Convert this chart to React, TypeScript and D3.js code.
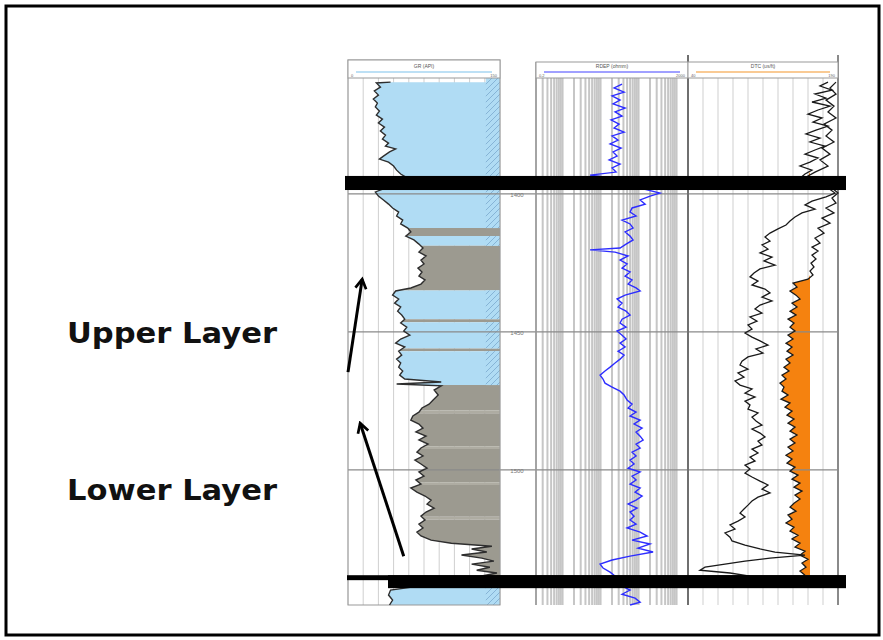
import * as d3 from 'd3'

const width = 883
const height = 640

// depth (m), gamma ray (API)
const grCurve: [number, number][] = [
  [1359.5, 42], [1359.8, 28], [1361.3, 32], [1362.7, 26], [1364.2, 30], [1365.6, 25], [1367.1, 29], [1368.5, 27],
  [1370.0, 31], [1371.4, 28], [1372.9, 34], [1374.3, 30], [1375.8, 36], [1377.2, 32], [1378.7, 37], [1380.1, 34],
  [1381.6, 40], [1382.7, 37], [1383.7, 47], [1384.8, 41], [1386.3, 35], [1387.4, 31], [1388.5, 40], [1389.9, 45],
  [1391.4, 48], [1392.8, 52], [1393.9, 57], [1396.1, 47], [1397.9, 37], [1399.3, 27], [1400.8, 30], [1402.2, 35],
  [1403.7, 40], [1405.1, 44], [1406.6, 50], [1408.0, 48], [1409.5, 54], [1410.9, 52], [1412.4, 59], [1413.8, 62],
  [1415.3, 57], [1416.7, 65], [1418.2, 70], [1419.6, 74], [1421.1, 70], [1422.5, 77], [1424.0, 72], [1425.4, 75],
  [1426.9, 69], [1428.3, 73], [1429.8, 70], [1431.2, 76], [1432.7, 72], [1434.1, 62], [1435.2, 47], [1436.7, 44],
  [1438.1, 50], [1439.6, 46], [1441.0, 52], [1442.5, 49], [1443.9, 53], [1445.4, 56], [1446.8, 52], [1448.3, 58],
  [1449.7, 55], [1451.2, 61], [1452.6, 52], [1454.1, 47], [1455.5, 56], [1457.0, 50], [1458.4, 53], [1459.9, 48],
  [1461.3, 52], [1462.8, 50], [1464.2, 54], [1465.7, 51], [1467.1, 56], [1468.2, 92], [1468.9, 48], [1469.6, 92],
  [1471.1, 85], [1472.9, 89], [1474.7, 84], [1476.2, 80], [1477.6, 73], [1479.1, 70], [1480.5, 64], [1482.0, 62],
  [1483.4, 70], [1484.9, 74], [1486.3, 67], [1487.8, 77], [1489.2, 70], [1490.7, 79], [1492.1, 72], [1493.6, 68],
  [1495.0, 74], [1496.5, 66], [1497.9, 72], [1499.4, 78], [1500.8, 70], [1502.3, 75], [1503.7, 67], [1505.2, 72],
  [1506.6, 62], [1508.1, 68], [1509.5, 76], [1511.0, 82], [1512.4, 78], [1513.9, 85], [1515.3, 77], [1516.8, 72],
  [1518.2, 76], [1519.7, 70], [1521.1, 74], [1522.6, 68], [1524.0, 72], [1525.5, 82], [1526.6, 102], [1527.7, 142],
  [1528.7, 122], [1529.8, 137], [1530.9, 112], [1532.0, 132], [1533.1, 144], [1534.2, 122], [1535.3, 140], [1536.4, 127],
  [1537.4, 147], [1538.5, 132], [1540.0, 112], [1543.6, 42], [1545.4, 40], [1547.2, 44], [1549.0, 41],
]

// depth (m), deep resistivity (ohmm)
const resCurve: [number, number][] = [
  [1360.2, 36.8], [1361.6, 22.7], [1363.1, 41.6], [1364.5, 20.1], [1366.0, 32.6], [1367.4, 21.3], [1368.9, 44.2],
  [1370.3, 24.1], [1371.8, 36.8], [1373.2, 18.9], [1374.7, 30.7], [1376.1, 22.7], [1377.6, 41.6], [1379.0, 20.1],
  [1380.5, 28.9], [1381.9, 17.8], [1383.4, 34.7], [1384.8, 21.3], [1386.3, 27.2], [1387.7, 16.8], [1389.2, 32.6],
  [1390.6, 20.1], [1392.1, 25.6], [1393.2, 5.3], [1394.3, 24.1], [1396.1, 44.2], [1397.9, 110], [1399.7, 366],
  [1400.8, 201], [1402.2, 110], [1403.7, 149], [1405.1, 67.5], [1406.6, 59.8], [1408.0, 86.0], [1409.5, 36.8],
  [1410.9, 59.8], [1412.4, 71.7], [1413.8, 44.2], [1415.3, 59.8], [1416.7, 71.7], [1418.2, 46.9], [1419.6, 32.6],
  [1420.3, 5.3], [1421.1, 24.1], [1422.5, 53.0], [1424.0, 32.6], [1425.4, 49.9], [1426.9, 36.8], [1428.3, 59.8],
  [1429.8, 44.2], [1431.2, 67.5], [1432.7, 53.0], [1434.1, 86.0], [1435.2, 110], [1436.7, 44.2], [1438.1, 27.2],
  [1439.6, 36.8], [1441.0, 28.9], [1442.5, 46.9], [1443.9, 59.8], [1445.4, 36.8], [1446.8, 32.6], [1448.3, 46.9],
  [1449.7, 27.2], [1451.2, 36.8], [1452.6, 46.9], [1454.1, 32.6], [1455.5, 44.2], [1457.0, 28.9], [1458.4, 41.6],
  [1459.9, 32.6], [1461.3, 24.1], [1462.8, 17.8], [1464.2, 13.1], [1465.7, 9.7], [1467.1, 11.6], [1468.6, 13.1],
  [1470.0, 20.1], [1471.5, 32.6], [1472.9, 41.6], [1474.7, 49.9], [1476.2, 67.5], [1477.6, 53.0], [1479.1, 86.0],
  [1480.5, 59.8], [1482.0, 110], [1483.4, 76.2], [1484.9, 124], [1486.3, 86.0], [1487.8, 110], [1489.2, 132],
  [1490.7, 86.0], [1492.1, 110], [1493.6, 67.5], [1495.0, 86.0], [1496.5, 59.8], [1497.9, 76.2], [1499.4, 53.0],
  [1500.8, 110], [1502.3, 67.5], [1503.7, 86.0], [1505.2, 59.8], [1506.6, 110], [1508.1, 81.0], [1509.5, 124],
  [1511.0, 86.0], [1512.4, 53.0], [1513.9, 91.4], [1515.3, 59.8], [1516.8, 76.2], [1518.2, 59.8], [1519.7, 86.0],
  [1521.1, 49.9], [1522.6, 110], [1524.0, 168], [1525.5, 67.5], [1526.9, 201], [1528.4, 97.1], [1529.8, 241],
  [1531.3, 59.8], [1532.7, 20.1], [1534.2, 9.7], [1535.6, 11.6], [1537.1, 17.8], [1538.5, 24.1], [1540.0, 20.1],
  [1541.8, 32.6], [1543.6, 59.8], [1545.1, 36.8], [1546.5, 81.0], [1548.0, 110], [1549.0, 59.8],
]

// depth (m), compressional slowness (us/ft)
const dtCurve: [number, number][] = [
  [1359.5, 180], [1360.9, 172], [1362.4, 184], [1363.8, 167], [1365.3, 178], [1366.7, 164], [1368.2, 182], [1369.6, 170],
  [1371.1, 160], [1372.5, 174], [1374.0, 165], [1375.4, 180], [1376.9, 168], [1378.3, 158], [1379.8, 172], [1381.2, 162],
  [1382.7, 177], [1384.1, 167], [1385.6, 157], [1387.0, 170], [1388.5, 162], [1389.9, 152], [1391.4, 164], [1392.8, 157],
  [1394.3, 152], [1396.1, 167], [1397.9, 180], [1399.7, 187], [1401.1, 178], [1402.6, 164], [1404.0, 157], [1405.5, 167],
  [1406.9, 154], [1408.4, 147], [1409.8, 142], [1411.3, 138], [1412.7, 130], [1414.2, 122], [1415.6, 117], [1417.1, 122],
  [1418.5, 114], [1420.0, 120], [1421.4, 112], [1422.9, 124], [1424.3, 116], [1425.8, 127], [1427.2, 112], [1428.7, 106],
  [1430.1, 102], [1431.6, 110], [1433.0, 104], [1434.5, 117], [1435.9, 122], [1437.4, 114], [1438.8, 124], [1440.3, 112],
  [1441.7, 107], [1443.2, 114], [1444.6, 102], [1446.1, 109], [1447.5, 100], [1449.0, 104], [1450.4, 97], [1451.9, 104],
  [1453.3, 112], [1454.8, 120], [1456.2, 108], [1457.7, 115], [1459.1, 100], [1460.6, 94], [1462.0, 92], [1463.5, 100],
  [1464.9, 90], [1466.4, 96], [1467.8, 87], [1469.3, 92], [1470.7, 104], [1472.2, 97], [1473.6, 107], [1475.1, 97],
  [1476.5, 102], [1478.0, 100], [1479.4, 110], [1480.9, 104], [1482.3, 108], [1483.8, 114], [1485.2, 104], [1486.7, 112],
  [1488.1, 117], [1489.6, 110], [1491.0, 114], [1492.5, 104], [1493.9, 110], [1495.4, 102], [1496.8, 107], [1498.3, 97],
  [1499.7, 102], [1501.2, 97], [1502.6, 104], [1504.1, 112], [1505.5, 120], [1507.0, 114], [1508.4, 122], [1509.9, 110],
  [1511.3, 104], [1512.8, 100], [1514.2, 96], [1515.7, 92], [1517.1, 97], [1518.6, 90], [1520.0, 82], [1521.5, 87],
  [1522.9, 77], [1524.4, 82], [1525.8, 84], [1527.3, 97], [1528.7, 112], [1529.8, 127], [1530.9, 157], [1532.0, 122],
  [1533.1, 97], [1534.2, 77], [1535.3, 57], [1536.4, 52], [1537.4, 82], [1538.5, 102],
]

// depth (m), shear slowness (us/ft), shaded against the cutoff
const dtsCurve: [number, number][] = [
  [1359.5, 188], [1361.6, 182], [1363.8, 188], [1366.0, 178], [1368.2, 186], [1370.3, 180], [1372.5, 188], [1374.7, 176],
  [1376.9, 184], [1379.0, 178], [1381.2, 186], [1383.4, 174], [1385.6, 182], [1387.7, 172], [1389.9, 180], [1392.1, 167],
  [1393.5, 160], [1396.1, 172], [1397.9, 184], [1399.7, 190], [1401.5, 184], [1403.3, 188], [1405.1, 178], [1406.9, 186],
  [1408.8, 174], [1410.6, 182], [1412.4, 170], [1414.2, 176], [1416.0, 167], [1417.8, 172], [1419.3, 164], [1420.7, 170],
  [1422.2, 164], [1423.6, 168], [1425.1, 163], [1426.5, 166], [1428.0, 162], [1429.4, 165], [1430.9, 160], [1432.3, 145],
  [1433.8, 149], [1435.2, 142], [1436.7, 148], [1438.1, 152], [1439.6, 144], [1441.0, 149], [1442.5, 142], [1443.9, 148],
  [1445.4, 140], [1446.8, 146], [1448.3, 142], [1449.7, 147], [1451.2, 140], [1452.6, 145], [1454.1, 138], [1455.5, 144],
  [1457.0, 139], [1458.4, 145], [1459.9, 138], [1461.3, 142], [1462.8, 136], [1464.2, 141], [1465.7, 134], [1467.1, 138],
  [1468.6, 132], [1470.0, 136], [1471.5, 134], [1472.9, 140], [1474.4, 133], [1475.8, 142], [1477.3, 137], [1478.7, 144],
  [1480.2, 139], [1481.6, 146], [1483.1, 140], [1484.5, 147], [1486.0, 142], [1487.4, 149], [1488.9, 142], [1490.3, 147],
  [1491.8, 140], [1493.2, 145], [1494.7, 138], [1496.1, 144], [1497.6, 139], [1499.0, 147], [1500.5, 142], [1501.9, 150],
  [1503.4, 144], [1504.8, 152], [1506.3, 146], [1507.7, 154], [1509.2, 147], [1510.6, 152], [1512.1, 146], [1513.5, 142],
  [1515.0, 148], [1516.4, 140], [1517.9, 144], [1519.3, 138], [1520.8, 146], [1522.2, 142], [1523.7, 150], [1525.1, 144],
  [1526.6, 152], [1528.0, 147], [1529.5, 157], [1530.9, 152], [1532.4, 160], [1533.8, 154], [1535.3, 158], [1536.7, 152],
  [1538.2, 157],
]
const dtsCutoff = 162

// top, base (m), rock type
const lithology: [number, number, string][] = [
  [1358, 1412.4, 'sand'], [1412.4, 1415.3, 'shale'], [1415.3, 1418.8, 'sand'], [1418.8, 1435.0, 'shale'],
  [1435.0, 1445.4, 'sand'], [1445.4, 1446.5, 'shale'], [1446.5, 1456.0, 'sand'], [1456.0, 1457.0, 'shale'],
  [1457.0, 1469.3, 'sand'], [1469.3, 1478.5, 'shale'], [1478.5, 1479.5, 'silt'], [1479.5, 1491.5, 'shale'],
  [1491.5, 1492.5, 'silt'], [1492.5, 1504.5, 'shale'], [1504.5, 1505.5, 'silt'], [1505.5, 1517.0, 'shale'],
  [1517.0, 1518.0, 'silt'], [1518.0, 1540.0, 'shale'], [1540.0, 1549, 'sand'],
]
const lithColor: Record<string, string> = { sand: '#b0dcf4', shale: '#9c9a90', silt: '#aeaca2' }

// formation boundaries: top, base (m)
const boundaries: [number, number][] = [[1393.5, 1398.6], [1538.2, 1540.0]]
const lowerBoundaryBase = 1542.9

const depthTicks = [1400, 1450, 1500]
const trackTitles = ['GR (API)', 'RDEP (ohmm)', 'DTC (us/ft)']
const trackScaleLabels = [['0', '150'], ['0.2', '2000'], ['40', '190']]
const layerLabels = ['Upper Layer', 'Lower Layer']
// annotation arrows: [depth, GR] from tail to head
const arrows: [number, number][][] = [
  [[1464.6, 0], [1430.9, 14]],
  [[1531.3, 55], [1483.1, 12]],
]

const t1 = [348, 500]
const t2 = [536, 688]
const t3 = [688, 838]
const headerTop = 60
const dataTop = 78
const dataBottom = 605

export default function App() {
  const y = d3.scaleLinear().domain([1358, 1549]).range([dataTop, dataBottom])
  const grX = d3.scaleLinear().domain([0, 150]).range(t1)
  const resX = d3.scaleLog().domain([0.2, 2000]).range(t2)
  const dtX = d3.scaleLinear().domain([40, 190]).range(t3)

  const grLine = d3.line<[number, number]>().x(d => grX(d[1])).y(d => y(d[0]))
  const grArea = d3.area<[number, number]>().y(d => y(d[0])).x0(d => grX(d[1])).x1(t1[1])
  const resLine = d3.line<[number, number]>().x(d => resX(d[1])).y(d => y(d[0]))
  const dtLine = d3.line<[number, number]>().x(d => dtX(d[1])).y(d => y(d[0]))
  const dtsArea = d3.area<[number, number]>()
    .y(d => y(d[0]))
    .x0(d => dtX(Math.min(d[1], dtsCutoff)))
    .x1(dtX(dtsCutoff))

  const grGrid = d3.range(0, 151, 15)
  const dtGrid = d3.range(40, 191, 15)
  const resGrid = resX.ticks()
  const grPath = grArea(grCurve) || ''

  return (
    <svg width={width} height={height} style={{ position: 'absolute', left: 0, top: 0 }}>
      <defs>
        {lithology.map((l, i) => (
          <clipPath id={`lith${i}`} key={i}>
            <rect x={t1[0]} y={y(l[0])} width={t1[1] - t1[0]} height={y(l[1]) - y(l[0])} />
          </clipPath>
        ))}
        <pattern id="hatch" width={6} height={6} patternUnits="userSpaceOnUse">
          <rect width={6} height={6} fill="#b0dcf4" />
          <path d="M0,6 L6,0 M-1,1 L1,-1 M5,7 L7,5" stroke="#86b4d6" strokeWidth={1} />
        </pattern>
        <marker id="arrowhead" viewBox="0 0 10 10" refX={8} refY={5} markerWidth={4.5} markerHeight={4.5} orient="auto">
          <path d="M1,1 L8,5 L1,9" fill="none" stroke="#000" strokeWidth={2} />
        </marker>
      </defs>

      <rect x={6} y={6} width={873} height={629} fill="#fff" stroke="#000" strokeWidth={3} />

      {/* track 1 grid */}
      {grGrid.map(v => (
        <line key={v} x1={grX(v)} x2={grX(v)} y1={dataTop} y2={dataBottom} stroke="#cfcfcf" strokeWidth={1} />
      ))}
      {/* track 2 log grid */}
      {resGrid.map((v, i) => (
        <line key={i} x1={resX(v)} x2={resX(v)} y1={dataTop} y2={dataBottom} stroke="#c6c6c6" strokeWidth={2} />
      ))}
      {/* track 3 grid */}
      {dtGrid.map(v => (
        <line key={v} x1={dtX(v)} x2={dtX(v)} y1={dataTop} y2={dataBottom} stroke="#cfcfcf" strokeWidth={1} />
      ))}

      {/* lithology fill from GR curve */}
      {lithology.map((l, i) => (
        <path key={i} d={grPath} fill={lithColor[l[2]]} clipPath={`url(#lith${i})`} />
      ))}
      {lithology.filter(l => l[2] === 'sand').map((l, i) => (
        <rect key={i} x={grX(136)} y={y(l[0])} width={t1[1] - grX(136)} height={y(l[1]) - y(l[0])}
          fill="url(#hatch)" />
      ))}

      {/* orange cutoff shading */}
      <path d={dtsArea(dtsCurve) || ''} fill="#f5820f" />

      {/* depth lines */}
      {depthTicks.map(d => (
        <g key={d}>
          <line x1={t1[0]} x2={t3[1]} y1={y(d)} y2={y(d)} stroke="#8a8a8a" strokeWidth={1.3} />
          <text x={517} y={y(d) + 3} fontSize={6} fill="#777" textAnchor="middle" fontFamily="Arial, sans-serif">{d}</text>
        </g>
      ))}

      {/* track frames */}
      <rect x={t1[0]} y={headerTop} width={t1[1] - t1[0]} height={dataBottom - headerTop} fill="none" stroke="#999" />
      <line x1={t2[0]} x2={t2[0]} y1={headerTop + 2} y2={dataBottom} stroke="#999" strokeWidth={1.5} />
      <line x1={t3[0]} x2={t3[0]} y1={55} y2={dataBottom} stroke="#6f6f6f" strokeWidth={2} />
      <line x1={t3[1]} x2={t3[1]} y1={55} y2={dataBottom} stroke="#8a8a8a" strokeWidth={2} />

      {/* headers */}
      {[t1, t2, t3].map((t, i) => (
        <g key={i}>
          <rect x={t[0]} y={i === 0 ? headerTop : headerTop + 2} width={t[1] - t[0]}
            height={dataTop - (i === 0 ? headerTop : headerTop + 2)} fill="#fff" stroke="#999" />
          <text x={(t[0] + t[1]) / 2} y={68} fontSize={5} fill="#555" textAnchor="middle" fontFamily="Arial, sans-serif">
            {trackTitles[i]}
          </text>
          <line x1={t[0] + 8} x2={t[1] - 8} y1={72} y2={72}
            stroke={['#a7d6f2', '#8080ff', '#f7b870'][i]} strokeWidth={1.5} />
          <text x={t[0] + 3} y={77} fontSize={4} fill="#666" fontFamily="Arial, sans-serif">{trackScaleLabels[i][0]}</text>
          <text x={t[1] - 3} y={77} fontSize={4} fill="#666" textAnchor="end" fontFamily="Arial, sans-serif">{trackScaleLabels[i][1]}</text>
        </g>
      ))}

      {/* curves */}
      <path d={grLine(grCurve) || ''} fill="none" stroke="#2e2e2e" strokeWidth={1.4} />
      <path d={resLine(resCurve) || ''} fill="none" stroke="#2d2dff" strokeWidth={1.4} />
      <path d={dtLine(dtCurve) || ''} fill="none" stroke="#1a1a1a" strokeWidth={1.3} />
      <path d={dtLine(dtsCurve) || ''} fill="none" stroke="#1a1a1a" strokeWidth={1.3} />

      {/* formation boundaries */}
      <rect x={345} y={y(boundaries[0][0])} width={501} height={y(boundaries[0][1]) - y(boundaries[0][0])} fill="#000" />
      <rect x={347} y={y(boundaries[1][0])} width={499} height={y(boundaries[1][1]) - y(boundaries[1][0])} fill="#000" />
      <rect x={388} y={y(boundaries[1][0])} width={458} height={y(lowerBoundaryBase) - y(boundaries[1][0])} fill="#000" />

      {/* annotation arrows */}
      {arrows.map((a, i) => (
        <line key={i} x1={grX(a[0][1])} y1={y(a[0][0])} x2={grX(a[1][1])} y2={y(a[1][0])}
          stroke="#000" strokeWidth={3} markerEnd="url(#arrowhead)" />
      ))}

      {/* layer labels */}
      {layerLabels.map((s, i) => (
        <text key={s} x={67} y={[343, 500][i]} fontSize={29} fontWeight="bold" fill="#111"
          fontFamily="'DejaVu Sans', Verdana, sans-serif" textLength={210} lengthAdjust="spacingAndGlyphs">
          {s}
        </text>
      ))}
    </svg>
  )
}
